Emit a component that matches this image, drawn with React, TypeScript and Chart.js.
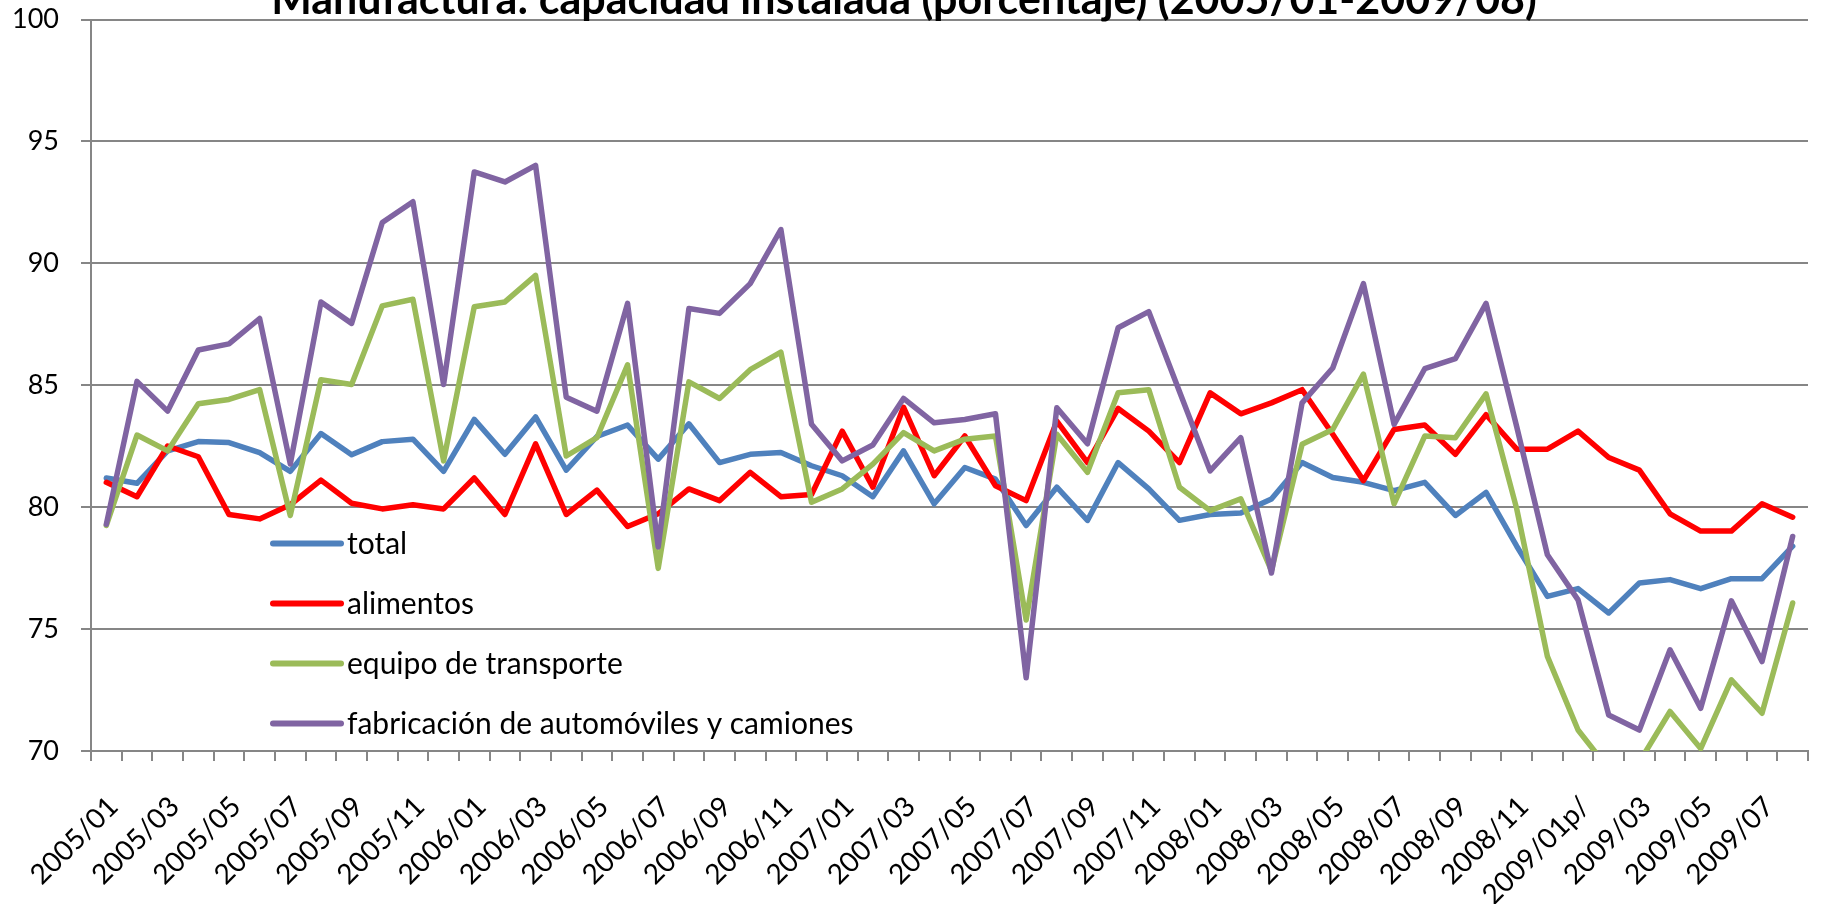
import React, { useEffect, useRef } from "react";
import { Chart, registerables } from "chart.js";

Chart.register(...registerables);

const TITLE = "Manufactura: capacidad instalada (porcentaje) (2005/01-2009/08)";

const categories = [
  "2005/01", "2005/02", "2005/03", "2005/04", "2005/05", "2005/06", "2005/07", "2005/08", "2005/09", "2005/10", "2005/11", "2005/12",
  "2006/01", "2006/02", "2006/03", "2006/04", "2006/05", "2006/06", "2006/07", "2006/08", "2006/09", "2006/10", "2006/11", "2006/12",
  "2007/01", "2007/02", "2007/03", "2007/04", "2007/05", "2007/06", "2007/07", "2007/08", "2007/09", "2007/10", "2007/11", "2007/12",
  "2008/01", "2008/02", "2008/03", "2008/04", "2008/05", "2008/06", "2008/07", "2008/08", "2008/09", "2008/10", "2008/11", "2008/12",
  "2009/01p/", "2009/02", "2009/03", "2009/04", "2009/05", "2009/06", "2009/07", "2009/08",
];

const total = [
  81.2, 80.98, 82.31, 82.69, 82.65, 82.24, 81.47, 83.02, 82.15, 82.69, 82.79, 81.47,
  83.6, 82.17, 83.7, 81.52, 82.9, 83.37, 81.97, 83.42, 81.83, 82.17, 82.24, 81.7,
  81.29, 80.43, 82.31, 80.14, 81.63, 81.15, 79.25, 80.82, 79.46, 81.83, 80.75, 79.46,
  79.7, 79.76, 80.34, 81.83, 81.22, 81.02, 80.68, 81.02, 79.66, 80.61, 78.4, 76.34,
  76.66, 75.66, 76.89, 77.03, 76.66, 77.07, 77.07, 78.4,
];

const alimentos = [
  81.02, 80.43, 82.51, 82.07, 79.7, 79.52, 80.1, 81.11, 80.16, 79.93, 80.1, 79.93,
  81.2, 79.7, 82.6, 79.7, 80.7, 79.21, 79.73, 80.75, 80.27, 81.43, 80.43, 80.52,
  83.12, 80.82, 84.1, 81.29, 82.92, 80.88, 80.27, 83.53, 81.83, 84.05, 83.12, 81.83,
  84.69, 83.83, 84.28, 84.82, 82.99, 81.09, 83.19, 83.37, 82.17, 83.8, 82.38, 82.38,
  83.12, 82.04, 81.52, 79.73, 79.02, 79.02, 80.14, 79.59,
];

const equipoTransporte = [
  79.25, 82.96, 82.31, 84.24, 84.42, 84.82, 79.66, 85.23, 85.03, 88.26, 88.53, 81.9,
  88.22, 88.42, 89.51, 82.1, 82.85, 85.84, 77.49, 85.14, 84.46, 85.64, 86.36, 80.2,
  80.75, 81.77, 83.06, 82.31, 82.79, 82.92, 75.37, 82.99, 81.43, 84.69, 84.82, 80.82,
  79.86, 80.34, 77.4, 82.58, 83.19, 85.46, 80.14, 82.92, 82.85, 84.65, 79.93, 73.88,
  70.86, 69.26, 69.55, 71.62, 70.1, 72.92, 71.55, 76.07,
];

const automoviles = [
  79.3, 85.16, 83.94, 86.45, 86.7, 87.74, 81.77, 88.42, 87.54, 91.68, 92.53, 85.03,
  93.75, 93.34, 94.02, 84.51, 83.94, 88.36, 78.37, 88.15, 87.95, 89.17, 91.39, 83.4,
  81.9, 82.55, 84.46, 83.46, 83.6, 83.83, 73.0, 84.08, 82.6, 87.36, 88.02, 84.75,
  81.49, 82.85, 77.3, 84.28, 85.71, 89.17, 83.4, 85.68, 86.09, 88.36, 83.3, 78.05,
  76.2, 71.48, 70.86, 74.15, 71.75, 76.16, 73.67, 78.8,
];

const seriesNames = ["total", "alimentos", "equipo de transporte", "fabricación de automóviles y camiones"];
const seriesColors = ["#4F81BD", "#FF0000", "#9BBB59", "#8064A2"];
const seriesValues = [total, alimentos, equipoTransporte, automoviles];

const Y_MIN = 70;
const Y_MAX = 100;
const Y_STEP = 5;

const FONT = "Lato, 'Open Sans', 'DejaVu Sans', sans-serif";
const TOP_CUT = 26;
const GRID = "#868686";

const insideLegend = {
  id: "insideLegend",
  afterDatasetsDraw(chart: any) {
    const { ctx, chartArea } = chart;
    const x0 = chartArea.left + 182;
    ctx.save();
    ctx.font = `30px ${FONT}`;
    ctx.textBaseline = "middle";
    ctx.textAlign = "left";
    chart.data.datasets.forEach((ds: any, i: number) => {
      const y = chartArea.top + 524 + i * 60;
      ctx.strokeStyle = ds.borderColor;
      ctx.lineWidth = 6;
      ctx.lineCap = "round";
      ctx.beginPath();
      ctx.moveTo(x0, y);
      ctx.lineTo(x0 + 68, y);
      ctx.stroke();
      ctx.fillStyle = "#000";
      ctx.fillText(ds.label, x0 + 74, y + 1);
    });
    ctx.restore();
  },
};

export default function App() {
  const canvasRef = useRef<HTMLCanvasElement | null>(null);

  useEffect(() => {
    if (!canvasRef.current) return;
    const chart = new Chart(canvasRef.current, {
      type: "line",
      data: {
        labels: categories,
        datasets: seriesValues.map((vals, i) => ({
          label: seriesNames[i],
          data: vals,
          borderColor: seriesColors[i],
          backgroundColor: seriesColors[i],
          borderWidth: 5.5,
          pointRadius: 0,
          pointHoverRadius: 0,
          tension: 0,
          fill: false,
          borderJoinStyle: "round",
          borderCapStyle: "round",
          order: seriesValues.length - i,
          clip: { left: 6, right: 6, top: 6, bottom: 0 },
        })),
      },
      options: {
        responsive: true,
        maintainAspectRatio: false,
        animation: false,
        events: [],
        layout: { padding: { left: 0, right: 13, top: 0, bottom: 0 } },
        plugins: {
          legend: { display: false },
          tooltip: { enabled: false },
          title: {
            display: true,
            text: TITLE,
            color: "#000",
            font: { family: FONT, size: 43, weight: "bold" },
            padding: { top: 0, bottom: -6 },
          },
        },
        scales: {
          x: {
            type: "category",
            offset: true,
            grid: {
              display: true,
              drawOnChartArea: false,
              drawTicks: true,
              tickLength: 10,
              offset: true,
              color: GRID,
              lineWidth: 2,
            },
            border: { display: true, color: GRID, width: 2 },
            ticks: {
              autoSkip: false,
              maxRotation: 45,
              minRotation: 45,
              padding: 29,
              labelOffset: 7,
              color: "#000",
              font: { family: FONT, size: 28 },
              callback: (_v: any, i: number) => (i % 2 === 0 ? categories[i] : ""),
            },
            afterFit: (s: any) => {
              s.height = 153;
              s.paddingLeft = 0;
              s.paddingRight = 0;
            },
          },
          y: {
            min: Y_MIN,
            max: Y_MAX,
            grid: { color: GRID, lineWidth: 2, tickLength: 10, drawTicks: true },
            border: { display: true, color: GRID, width: 2 },
            ticks: {
              stepSize: Y_STEP,
              padding: 22,
              color: "#000",
              font: { family: FONT, size: 27 },
            },
            afterFit: (s: any) => {
              s.width = 91;
              s.paddingTop = 0;
              s.paddingBottom = 0;
            },
          },
        },
      },
      plugins: [insideLegend],
    } as any);
    return () => chart.destroy();
  }, []);

  return (
    <div style={{ position: "absolute", left: 0, top: 0, width: 1821, height: 904, overflow: "hidden", background: "#fff" }}>
      <div style={{ position: "absolute", left: 0, top: -TOP_CUT, width: 1821, height: 904 + TOP_CUT }}>
        <canvas ref={canvasRef} />
      </div>
    </div>
  );
}
